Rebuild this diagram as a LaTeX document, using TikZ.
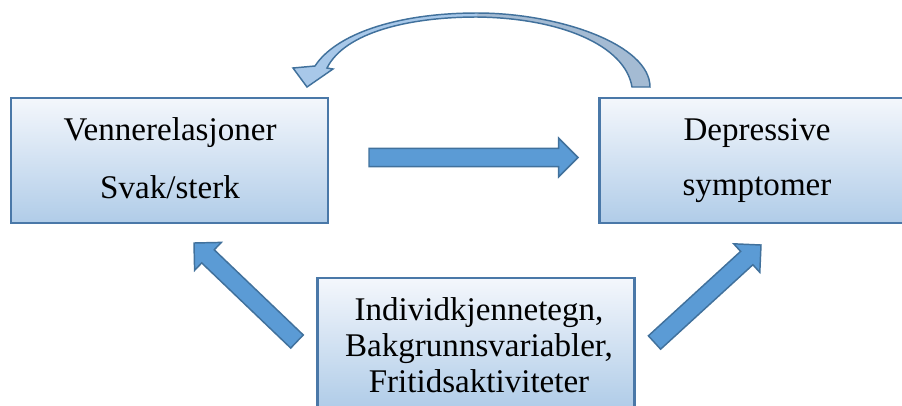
\documentclass[tikz,border=0pt]{standalone}
\usepackage{fontspec}
\setmainfont{Liberation Serif}
\newfontfamily\tnr{Liberation Serif}
\usetikzlibrary{calc}
\definecolor{boxline}{RGB}{74,120,168}
\definecolor{boxtop}{RGB}{244,247,252}
\definecolor{boxbot}{RGB}{176,204,232}
\definecolor{pilfyll}{RGB}{91,155,213}
\definecolor{pillinje}{RGB}{65,113,156}
\definecolor{buelys}{RGB}{168,200,233}
\definecolor{buemork}{RGB}{164,187,211}
\tikzset{
 boks/.style={draw=boxline,line width=1.8pt,top color=boxtop,bottom color=boxbot,
  minimum width=238pt,minimum height=94pt,inner sep=0pt},
 tekst/.style={anchor=base,font=\tnr\fontsize{24.8}{28}\selectfont,inner sep=0pt},
 blokkpil/.style={fill=pilfyll,draw=pillinje,line width=1.1pt,line join=miter},
 buepil/.style={draw=pillinje,line width=1.1pt,line join=miter}
}
% blokkpil fra #1 til #2
\newcommand\blokkpil[2]{%
 \coordinate (hode) at ($(#2)!14.5pt!(#1)$);
 \draw[blokkpil] ($(#1)!6.8pt!90:(#2)$) -- ($(hode)!6.8pt!90:(#2)$) -- ($(hode)!14.5pt!90:(#2)$)
  -- (#2) -- ($(hode)!14.5pt!-90:(#2)$) -- ($(hode)!6.8pt!-90:(#2)$) -- ($(#1)!6.8pt!-90:(#2)$) -- cycle;}
\begin{document}
\begin{tikzpicture}[x=0.75pt,y=-0.75pt]
\useasboundingbox (0,0) rectangle (902,405);
\clip (0,0) rectangle (902,405);
% boksene
\node[boks] (venn) at (169.5,160.5) {};
\node[boks] (depr) at (758,160.5) {};
\node[boks,minimum height=97.5pt] (indiv) at (476,343) {};
\node[tekst] (venn1) at (170,140) {Vennerelasjoner};
\node[tekst] (venn2) at (170,198) {Svak/sterk};
\node[tekst] (depr1) at (757,140) {Depressive};
\node[tekst] (depr2) at (757,195) {symptomer};
\node[tekst] (indiv1) at (479,320) {Individkjennetegn,};
\node[tekst] (indiv2) at (479,356) {Bakgrunnsvariabler,};
\node[tekst] (indiv3) at (479,392) {Fritidsaktiviteter};
% blokkpiler
\coordinate (midtfra) at (369,157.5); \coordinate (midttil) at (578,157.5);
\coordinate (vfra) at (297,341.5); \coordinate (vtil) at (194,243);
\coordinate (hfra) at (654.5,342.5); \coordinate (htil) at (761,245);
\blokkpil{midtfra}{midttil}
\blokkpil{vfra}{vtil}
\blokkpil{hfra}{htil}
% buet pil fra depr til venn
\coordinate (topp) at (477,13); \coordinate (toppinn) at (477,17);
\fill[buemork] (topp) .. controls (560,13) and (650,45) .. (650,87) -- (632,87)
  .. controls (625,45) and (560,18) .. (toppinn) -- cycle;
\fill[buelys] (topp) .. controls (395,13) and (335,35) .. (315,66) -- (293,68) -- (307,87)
  -- (333,69) -- (327,68) .. controls (345,32) and (410,17) .. (toppinn) -- cycle;
\draw[buepil] (650,87) .. controls (650,45) and (560,13) .. (topp)
  .. controls (395,13) and (335,35) .. (315,66) -- (293,68) -- (307,87) -- (333,69) -- (327,68)
  .. controls (345,32) and (410,17) .. (toppinn) .. controls (560,18) and (625,45) .. (632,87) -- cycle;
\end{tikzpicture}
\end{document}
